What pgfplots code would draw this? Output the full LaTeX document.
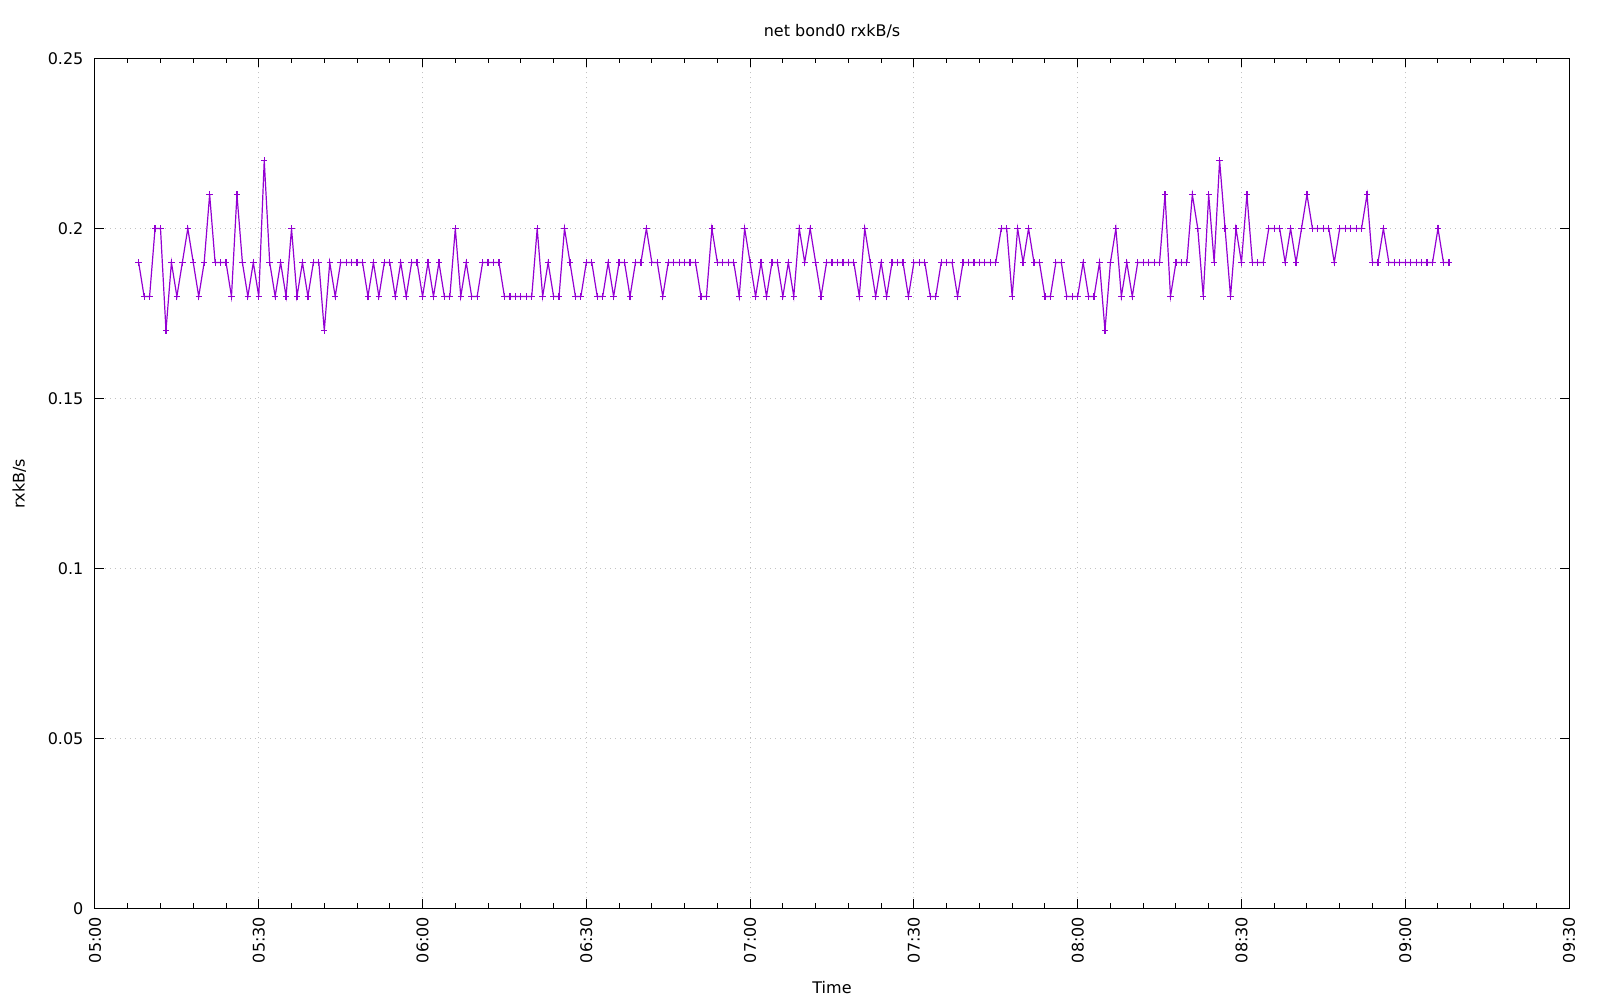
\documentclass[border=0pt]{standalone}
\usepackage{fontspec}
\setmainfont{DejaVu Sans}
\usepackage{pgfplots}
\pgfplotsset{compat=1.18}
\definecolor{gpviolet}{RGB}{148,0,211}
\definecolor{gridgray}{RGB}{195,195,195}
\begin{document}
\fontsize{8pt}{9.6pt}\selectfont
\begin{tikzpicture}
\useasboundingbox (-47.5pt,-45.75pt) rectangle (752.5pt,454.25pt);
\begin{axis}[
 at={(0,0)}, anchor=south west,
 scale only axis, width=737pt, height=425pt,
 xmin=0, xmax=270, ymin=0, ymax=0.25,
 xtick={0,30,...,270},
 xticklabels={05:00,05:30,06:00,06:30,07:00,07:30,08:00,08:30,09:00,09:30},
 minor x tick num=4,
 ytick={0,0.05,0.1,0.15,0.2,0.25},
 yticklabels={0,0.05,0.1,0.15,0.2,0.25},
 tick align=inside, major tick length=4.5pt, minor tick length=2.5pt,
 every tick/.style={black, line width=0.5pt},
 axis line style={line width=0.5pt},
 grid=major,
 major grid style={gridgray, line width=0.5pt, dash pattern=on 0.5pt off 2pt},
 xticklabel style={rotate=90, anchor=east, inner sep=0pt},
 yticklabel style={anchor=east, inner sep=0pt},
 xticklabel shift=4pt, yticklabel shift=5.6pt,
 /pgf/number format/assume math mode=true,
 clip=false,
]
\addplot[gpviolet, line width=0.6pt, mark=+, mark size=1.6pt] coordinates {
(8,0.19)(9,0.18)(10,0.18)(11,0.20)(12,0.20)(13,0.17)(14,0.19)(15,0.18)(16,0.19)(17,0.20)
(18,0.19)(19,0.18)(20,0.19)(21,0.21)(22,0.19)(23,0.19)(24,0.19)(25,0.18)(26,0.21)(27,0.19)
(28,0.18)(29,0.19)(30,0.18)(31,0.22)(32,0.19)(33,0.18)(34,0.19)(35,0.18)(36,0.20)(37,0.18)
(38,0.19)(39,0.18)(40,0.19)(41,0.19)(42,0.17)(43,0.19)(44,0.18)(45,0.19)(46,0.19)(47,0.19)
(48,0.19)(49,0.19)(50,0.18)(51,0.19)(52,0.18)(53,0.19)(54,0.19)(55,0.18)(56,0.19)(57,0.18)
(58,0.19)(59,0.19)(60,0.18)(61,0.19)(62,0.18)(63,0.19)(64,0.18)(65,0.18)(66,0.20)(67,0.18)
(68,0.19)(69,0.18)(70,0.18)(71,0.19)(72,0.19)(73,0.19)(74,0.19)(75,0.18)(76,0.18)(77,0.18)
(78,0.18)(79,0.18)(80,0.18)(81,0.20)(82,0.18)(83,0.19)(84,0.18)(85,0.18)(86,0.20)(87,0.19)
(88,0.18)(89,0.18)(90,0.19)(91,0.19)(92,0.18)(93,0.18)(94,0.19)(95,0.18)(96,0.19)(97,0.19)
(98,0.18)(99,0.19)(100,0.19)(101,0.20)(102,0.19)(103,0.19)(104,0.18)(105,0.19)(106,0.19)(107,0.19)
(108,0.19)(109,0.19)(110,0.19)(111,0.18)(112,0.18)(113,0.20)(114,0.19)(115,0.19)(116,0.19)(117,0.19)
(118,0.18)(119,0.20)(120,0.19)(121,0.18)(122,0.19)(123,0.18)(124,0.19)(125,0.19)(126,0.18)(127,0.19)
(128,0.18)(129,0.20)(130,0.19)(131,0.20)(132,0.19)(133,0.18)(134,0.19)(135,0.19)(136,0.19)(137,0.19)
(138,0.19)(139,0.19)(140,0.18)(141,0.20)(142,0.19)(143,0.18)(144,0.19)(145,0.18)(146,0.19)(147,0.19)
(148,0.19)(149,0.18)(150,0.19)(151,0.19)(152,0.19)(153,0.18)(154,0.18)(155,0.19)(156,0.19)(157,0.19)
(158,0.18)(159,0.19)(160,0.19)(161,0.19)(162,0.19)(163,0.19)(164,0.19)(165,0.19)(166,0.20)(167,0.20)
(168,0.18)(169,0.20)(170,0.19)(171,0.20)(172,0.19)(173,0.19)(174,0.18)(175,0.18)(176,0.19)(177,0.19)
(178,0.18)(179,0.18)(180,0.18)(181,0.19)(182,0.18)(183,0.18)(184,0.19)(185,0.17)(186,0.19)(187,0.20)
(188,0.18)(189,0.19)(190,0.18)(191,0.19)(192,0.19)(193,0.19)(194,0.19)(195,0.19)(196,0.21)(197,0.18)
(198,0.19)(199,0.19)(200,0.19)(201,0.21)(202,0.20)(203,0.18)(204,0.21)(205,0.19)(206,0.22)(207,0.20)
(208,0.18)(209,0.20)(210,0.19)(211,0.21)(212,0.19)(213,0.19)(214,0.19)(215,0.20)(216,0.20)(217,0.20)
(218,0.19)(219,0.20)(220,0.19)(221,0.20)(222,0.21)(223,0.20)(224,0.20)(225,0.20)(226,0.20)(227,0.19)
(228,0.20)(229,0.20)(230,0.20)(231,0.20)(232,0.20)(233,0.21)(234,0.19)(235,0.19)(236,0.20)(237,0.19)
(238,0.19)(239,0.19)(240,0.19)(241,0.19)(242,0.19)(243,0.19)(244,0.19)(245,0.19)(246,0.20)(247,0.19)
(248,0.19)
};
\node[yshift=13.7pt] at (rel axis cs:0.5,1) {net bond0 rxkB/s};
\node[xshift=-37.8pt, rotate=90] at (rel axis cs:0,0.5) {rxkB/s};
\node[yshift=-39.3pt] at (rel axis cs:0.5,0) {Time};
\end{axis}
\end{tikzpicture}
\end{document}
